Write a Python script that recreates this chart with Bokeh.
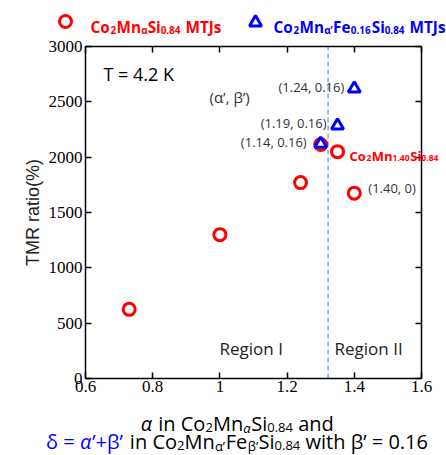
import math
from bokeh.plotting import figure
from bokeh.models import Label, LinearAxis, Range1d, FixedTicker, CustomJSTickFormatter
from bokeh.embed import file_html
from bokeh.resources import INLINE

# ---------------- data ----------------
alpha_cms = [0.73, 1.00, 1.24, 1.30, 1.35, 1.40]          # Co2MnαSi0.84
tmr_cms = [625, 1300, 1770, 2115, 2050, 1675]
delta_cmfs = [1.30, 1.35, 1.40]                           # Co2Mnα'Fe0.16Si0.84
tmr_cmfs = [2120, 2285, 2620]
cmfs_labels = ["(1.14, 0.16)", "(1.19, 0.16)", "(1.24, 0.16)"]
cms_note_label = "(1.40, 0)"
region_boundary = 1.322
x_ticks = [0.6, 0.8, 1.0, 1.2, 1.4, 1.6]
x_tick_labels = ["0.6", "0.8", "1", "1.2", "1.4", "1.6"]
y_ticks = [0, 500, 1000, 1500, 2000, 2500, 3000]
y_tick_labels = ["0", "500", "1000", "1500", "2000", "2500", "3000"]
X_LO, X_HI = 0.6, 1.6
Y_LO, Y_HI = 0, 3000

RED = "#FF0000"
BLUE = "#0000FF"
GRAY = "#333333"
SANS = "Open Sans"
NB = "\u00a0"

# ---------------- canvas geometry ----------------
W, H = 446, 455
PL, PR, PT, PB = 85, 421, 46, 378   # where the axes box sits on the canvas
XS = (X_HI - X_LO) / (PR - PL)      # data units per pixel
YS = (Y_HI - Y_LO) / (PB - PT)


def xd(X):
    return X_LO + (X - PL) * XS


def yd(Y):
    return Y_LO + (PB - Y) * YS


# ---------------- text helpers ----------------
CW = {' ': 0.26, '.': 0.266, ',': 0.25, '(': 0.296, ')': 0.296, '=': 0.572, '+': 0.572, '’': 0.22,
      'C': 0.631, 'o': 0.604, 'M': 0.905, 'n': 0.614, 'S': 0.547, 'i': 0.253, 'F': 0.539, 'e': 0.561,
      'T': 0.559, 'J': 0.27, 's': 0.477, 'a': 0.573, 'd': 0.614, 'w': 0.784, 't': 0.353, 'h': 0.614,
      'K': 0.6, 'R': 0.617, 'g': 0.54, 'I': 0.28, 'α': 0.614, 'β': 0.61, 'δ': 0.6}
for _d in "0123456789":
    CW[_d] = 0.572


def text_w(s, size, bold):
    return sum(CW.get(c, 0.56) for c in s) * size * (1.06 if bold else 1.0)


def layout_rich(segs, size, bold, sub_ratio=0.65):
    out = []
    x = 0.0
    for text, is_sub, col, ital in segs:
        fs = size * sub_ratio if is_sub else size
        dy = size * 0.22 if is_sub else 0.0
        out.append((text.replace(" ", NB), x, dy, fs, col, ital))
        x += text_w(text, fs, bold)
    return out, x


def style_of(bold, ital):
    return "bold" if bold else ("italic" if ital else "normal")


def screen_rich(fig, segs, X, Y, size, bold, align="left"):
    items, w = layout_rich(segs, size, bold)
    if align == "center":
        X = X - w / 2
    for text, dx, dy, fs, col, ital in items:
        fig.add_layout(Label(x=X + dx, y=H - (Y + dy), x_units="screen", y_units="screen",
                             text=text, text_font=SANS, text_font_size=f"{fs:.1f}px",
                             text_font_style=style_of(bold, ital),
                             text_color=col, text_align="left", text_baseline="alphabetic"))


def data_rich(fig, segs, x0, y0, ox, oy, size, bold):
    items, w = layout_rich(segs, size, bold)
    for text, dx, dy, fs, col, ital in items:
        fig.add_layout(Label(x=x0, y=y0, x_offset=ox + dx, y_offset=-(oy + dy),
                             text=text, text_font=SANS, text_font_size=f"{fs:.1f}px",
                             text_font_style=style_of(bold, ital),
                             text_color=col, text_align="left", text_baseline="alphabetic"))


# ---------------- figure ----------------
p = figure(width=W, height=H,
           x_range=Range1d(xd(0), xd(W)), y_range=Range1d(yd(H), yd(0)),
           output_backend="svg", toolbar_location=None,
           x_axis_location=None, y_axis_location=None,
           min_border=0, outline_line_color=None)
p.grid.visible = False


def make_axis(ticks, labels, loc, bounds, show):
    if show:
        fmt = CustomJSTickFormatter(args=dict(labels=labels), code="return labels[index]")
    else:
        fmt = CustomJSTickFormatter(code="return ''")
    ax = LinearAxis(ticker=FixedTicker(ticks=ticks), formatter=fmt, fixed_location=loc, bounds=bounds,
                    major_tick_in=6, major_tick_out=0, minor_tick_in=0, minor_tick_out=0,
                    axis_line_width=1.5, axis_line_color="black",
                    major_tick_line_width=1.5, major_tick_line_color="black",
                    major_label_text_font="Liberation Serif",
                    major_label_text_font_size=("17px" if show else "0px"),
                    major_label_text_color="black")
    return ax


ax_b = make_axis(x_ticks, x_tick_labels, Y_LO, (X_LO, X_HI), True)
ax_b.major_label_standoff = 2
ax_l = make_axis(y_ticks, y_tick_labels, X_LO, (Y_LO, Y_HI), True)
ax_l.major_label_standoff = 3
ax_t = make_axis(x_ticks, x_tick_labels, Y_HI, (X_LO, X_HI), False)
ax_r = make_axis(y_ticks, y_tick_labels, X_HI, (Y_LO, Y_HI), False)
p.add_layout(ax_b, "below")
p.add_layout(ax_l, "left")
p.add_layout(ax_t, "above")
p.add_layout(ax_r, "right")

# region boundary (only inside the axes box)
p.segment(x0=[region_boundary], y0=[Y_LO], x1=[region_boundary], y1=[Y_HI],
          line_color="#5B9BD5", line_width=1.2, line_dash="5 3")

# data
p.scatter(alpha_cms, tmr_cms, marker="circle", size=12, line_width=3, line_color=RED, fill_color=None)
p.scatter(delta_cmfs, tmr_cmfs, marker="triangle", size=12, line_width=3, line_color=BLUE, fill_color=None)

# legend markers (top strip)
p.scatter([xd(65)], [yd(21)], marker="circle", size=12, line_width=3, line_color=RED, fill_color=None)
p.scatter([xd(255)], [yd(22)], marker="triangle", size=12, line_width=3, line_color=BLUE, fill_color=None)
screen_rich(p, [("Co", False, RED, False), ("2", True, RED, False), ("Mn", False, RED, False),
                ("α", True, RED, False), ("Si", False, RED, False), ("0.84", True, RED, False),
                (" MTJs", False, RED, False)], 90, 26, 15.3, True)
screen_rich(p, [("Co", False, BLUE, False), ("2", True, BLUE, False), ("Mn", False, BLUE, False),
                ("α’", True, BLUE, False), ("Fe", False, BLUE, False), ("0.16", True, BLUE, False),
                ("Si", False, BLUE, False), ("0.84", True, BLUE, False), (" MTJs", False, BLUE, False)],
            273, 26, 15.3, True)

# annotations near points
ann_off = [(-14, 2), (-11, 3), (-10, 2)]
for x0, y0, lab, (ox, oy) in zip(delta_cmfs, tmr_cmfs, cmfs_labels, ann_off):
    p.add_layout(Label(x=x0, y=y0, x_offset=ox, y_offset=oy, text=lab, text_font=SANS,
                       text_font_size="13px", text_color=GRAY, text_align="right", text_baseline="middle"))
p.add_layout(Label(x=alpha_cms[5], y=tmr_cms[5], x_offset=14, y_offset=5, text=cms_note_label,
                   text_font=SANS, text_font_size="13px", text_color=GRAY, text_align="left",
                   text_baseline="middle"))
data_rich(p, [("Co", False, RED, False), ("2", True, RED, False), ("Mn", False, RED, False),
              ("1.40", True, RED, False), ("Si", False, RED, False), ("0.84", True, RED, False)],
          alpha_cms[4], tmr_cms[4], 12, 4, 13, True)

# free texts
screen_rich(p, [("T = 4.2 K", False, "black", False)], 103, 73, 18, False)
screen_rich(p, [("(α’, β’)", False, GRAY, False)], 209, 96, 15, False)
screen_rich(p, [("Region I", False, "#222222", False)], 219, 348, 17, False)
screen_rich(p, [("Region II", False, "#222222", False)], 334, 348, 17, False)

# axis titles
p.add_layout(Label(x=32, y=H - 212, x_units="screen", y_units="screen", text="TMR ratio(%)",
                   angle=math.pi / 2, text_font="Liberation Sans", text_font_size="18px", text_color="#222222",
                   text_align="center", text_baseline="middle"))
screen_rich(p, [("α", False, "black", True), (" in Co", False, "black", False), ("2", True, "black", False),
                ("Mn", False, "black", False), ("α", True, "black", True), ("Si", False, "black", False),
                ("0.84", True, "black", False), (" and", False, "black", False)], 237, 423, 20, False,
            align="center")
screen_rich(p, [("δ = ", False, BLUE, False), ("α", False, BLUE, True), ("’+β’", False, BLUE, False),
                (" in Co", False, "black", False), ("2", True, "black", False), ("Mn", False, "black", False),
                ("α’", True, "black", False), ("Fe", False, "black", False), ("β’", True, "black", False),
                ("Si", False, "black", False), ("0.84", True, "black", False),
                (" with β’ = 0.16", False, "black", False)], 237, 441, 20, False, align="center")

open("out.html", "w").write(file_html(p, INLINE))
